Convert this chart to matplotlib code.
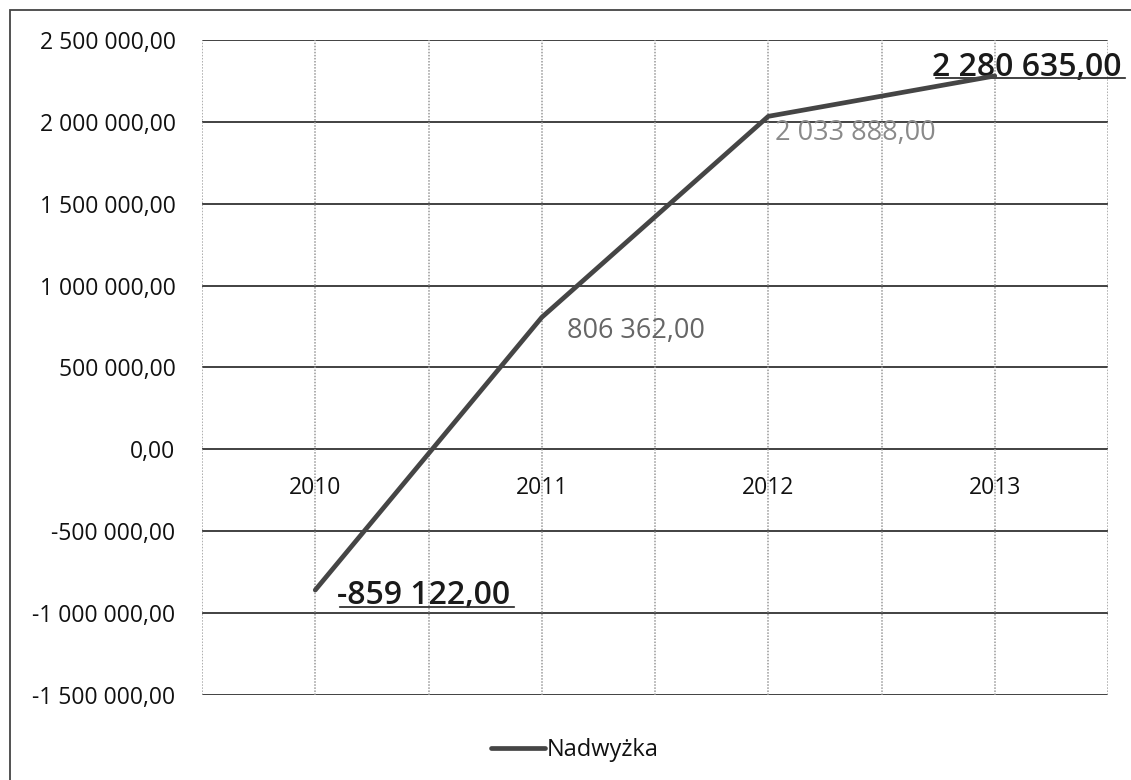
import matplotlib.pyplot as plt
from matplotlib.patches import Rectangle
import numpy as np

# ---------------------------------------------------------------------------
# Data
# ---------------------------------------------------------------------------
years = ["2010", "2011", "2012", "2013"]
nadwyzka = [-859122.00, 806362.00, 2033888.00, 2280635.00]
series_label = "Nadwyżka"

y_ticks = [-1500000, -1000000, -500000, 0, 500000, 1000000, 1500000, 2000000, 2500000]

FONT = ["Open Sans", "DejaVu Sans"]
plt.rcParams["font.family"] = FONT


def pl_fmt(v):
    """Polish number format: space thousands, comma decimals."""
    s = f"{abs(v):,.2f}".replace(",", " ").replace(".", ",")
    return ("-" if v < 0 else "") + s


fig = plt.figure(figsize=(11.31, 7.8), dpi=100)
ax = fig.add_axes([0.1786, 0.109, 0.8011, 0.8397])

x = np.arange(len(years))
ax.plot(x, nadwyzka, color="#454545", linewidth=3.4, solid_capstyle="round",
        zorder=5, label=series_label)

ax.set_xlim(-0.5, len(years) - 0.5)
ax.set_ylim(y_ticks[0], y_ticks[-1])

# grid: dark horizontal, dotted light vertical every half category
ax.set_yticks(y_ticks)
ax.set_yticklabels([pl_fmt(v) for v in y_ticks], fontsize=16.5, color="#111111")
for v in y_ticks:
    ax.axhline(v, color="#333333", linewidth=1.3, zorder=1)
for xv in np.arange(-0.5, len(years), 0.5):
    ax.axvline(xv, color="#999999", linewidth=1.1, linestyle=(0, (1, 1)), zorder=1)

ax.set_xticks([])
ax.tick_params(axis="y", length=0, pad=19)
for sp in ax.spines.values():
    sp.set_visible(False)

# category labels sit just under the zero line
for xi, yr in zip(x, years):
    ax.annotate(yr, (xi, 0), xytext=(0, -19.5), textcoords="offset points",
                ha="center", va="top", fontsize=16.5, color="#111111")

# data labels
lbl = [pl_fmt(v) for v in nadwyzka]
ax.annotate(lbl[0], (x[0], nadwyzka[0]), xytext=(16, -10), textcoords="offset points",
            ha="left", va="baseline", fontsize=23, color="#1a1a1a",
            fontweight="semibold")
ax.annotate(lbl[1], (x[1], nadwyzka[1]), xytext=(18, -10), textcoords="offset points",
            ha="left", va="center", fontsize=19.5, color="#666666")
ax.annotate(lbl[2], (x[2], nadwyzka[2]), xytext=(5, -12), textcoords="offset points",
            ha="left", va="center", fontsize=19.5, color="#8a8a8a")
ax.annotate(lbl[3], (x[3], nadwyzka[3]), xytext=(-45, 0), textcoords="offset points",
            ha="left", va="baseline", fontsize=23, color="#1a1a1a",
            fontweight="semibold")

# underlines under the two emphasised labels
ax.annotate("", xy=(337, 173), xytext=(517, 173), xycoords="figure pixels",
            arrowprops=dict(arrowstyle="-", color="#333333", lw=1.3))
ax.annotate("", xy=(933, 702), xytext=(1128, 702), xycoords="figure pixels",
            arrowprops=dict(arrowstyle="-", color="#333333", lw=1.3))

# legend at bottom
leg = fig.legend(loc="center", bbox_to_anchor=(0.508, 0.038), frameon=False,
                 fontsize=17, handlelength=2.3, handletextpad=0.05)
for t in leg.get_texts():
    t.set_color("#111111")

# outer chart border
fig.patches.append(Rectangle((10 / 1131, -0.05), 1.2, 1 - 10 / 780 + 0.05,
                             transform=fig.transFigure, fill=False,
                             edgecolor="#444444", linewidth=1.3))

fig.savefig("out.png", dpi=100)
